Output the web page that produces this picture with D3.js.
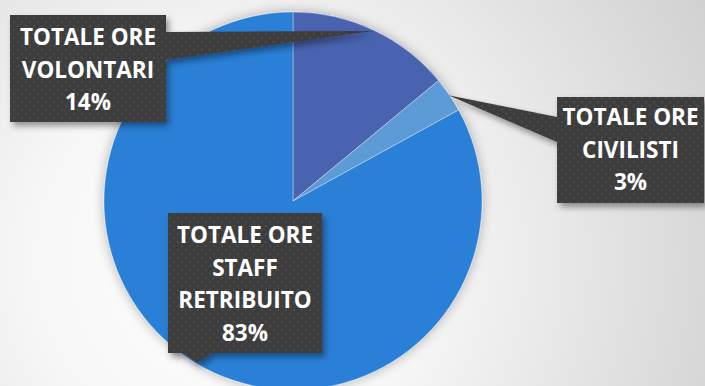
<!DOCTYPE html>
<html>
<head>
<meta charset="utf-8">
<script src="https://cdn.jsdelivr.net/npm/d3@7"></script>
<style>
  html, body { margin: 0; padding: 0; }
  body { width: 705px; height: 386px; overflow: hidden; }
</style>
</head>
<body>
<div id="chart"></div>
<script>
// Slices, clockwise from 12 o'clock
const categories = ['TOTALE ORE VOLONTARI', 'TOTALE ORE CIVILISTI', 'TOTALE ORE STAFF RETRIBUITO'];
const values = [14, 3, 83];
const labelLines = [
    ['TOTALE ORE', 'VOLONTARI', '14%'],
    ['TOTALE ORE', 'CIVILISTI', '3%'],
    ['TOTALE ORE', 'STAFF', 'RETRIBUITO', '83%']
];
const sliceColors = ['#4864b0', '#5b9bd5', '#2a7fd6'];

const width = 705, height = 386;
const cx = 293, cy = 201, radius = 189;

// callout boxes: x, y, w, h, which side the pointer leaves from, and the base span on that side
const callouts = [
    {x: 10, y: 15, w: 156, h: 107, side: 'right', b0: 32, b1: 60, top: 45},
    {x: 557, y: 97, w: 147, h: 106, side: 'left', b0: 117, b1: 142, top: 125},
    {x: 168, y: 213, w: 154, h: 140, side: 'bottom', b0: 183, b1: 213, top: 243}
];
const lineGap = 32.5;

const svg = d3.select('#chart').append('svg')
    .attr('width', width)
    .attr('height', height);

const defs = svg.append('defs');

const bg = defs.append('radialGradient')
    .attr('id', 'bg')
    .attr('gradientUnits', 'userSpaceOnUse')
    .attr('cx', 230).attr('cy', 260).attr('r', 560);
bg.append('stop').attr('offset', '0%').attr('stop-color', '#ffffff');
bg.append('stop').attr('offset', '35%').attr('stop-color', '#f7f7f7');
bg.append('stop').attr('offset', '100%').attr('stop-color', '#cfcfcf');

const pieShadow = defs.append('filter').attr('id', 'pieShadow')
    .attr('x', '-20%').attr('y', '-20%').attr('width', '140%').attr('height', '140%');
pieShadow.append('feDropShadow')
    .attr('dx', 0).attr('dy', 0).attr('stdDeviation', 6)
    .attr('flood-color', '#000').attr('flood-opacity', 0.3);

const boxShadow = defs.append('filter').attr('id', 'boxShadow')
    .attr('x', '-20%').attr('y', '-20%').attr('width', '140%').attr('height', '140%');
boxShadow.append('feDropShadow')
    .attr('dx', 3).attr('dy', 4).attr('stdDeviation', 3)
    .attr('flood-color', '#000').attr('flood-opacity', 0.4);

const dots = defs.append('pattern')
    .attr('id', 'dots')
    .attr('patternUnits', 'userSpaceOnUse')
    .attr('width', 8).attr('height', 8);
dots.append('rect').attr('width', 8).attr('height', 8).attr('fill', '#3e3e3e');
dots.append('rect').attr('x', 1).attr('y', 1).attr('width', 2).attr('height', 2).attr('fill', '#4c4c4c');
dots.append('rect').attr('x', 5).attr('y', 5).attr('width', 2).attr('height', 2).attr('fill', '#484848');

svg.append('rect')
    .attr('width', width).attr('height', height)
    .attr('fill', 'url(#bg)');

const pie = d3.pie().sort(null).value(d => d);
const arcs = pie(values);
const arc = d3.arc().innerRadius(0).outerRadius(radius);

const g = svg.append('g')
    .attr('transform', `translate(${cx},${cy})`)
    .attr('filter', 'url(#pieShadow)');

g.selectAll('path')
    .data(arcs)
    .enter()
    .append('path')
    .attr('d', arc)
    .attr('fill', (d, i) => sliceColors[i])
    .attr('stroke', 'rgba(255,255,255,0.35)')
    .attr('stroke-width', 1);

// pointer tip sits on the rim at the slice's middle angle
function tipPoint(d) {
    const a = (d.startAngle + d.endAngle) / 2;
    return [cx + (radius - 1) * Math.sin(a), cy - (radius - 1) * Math.cos(a)];
}

function calloutPath(c, tip) {
    const p = d3.path();
    const x0 = c.x, y0 = c.y, x1 = c.x + c.w, y1 = c.y + c.h;
    p.moveTo(x0, y0);
    p.lineTo(x1, y0);
    if (c.side === 'right') {
        p.lineTo(x1, c.b0);
        p.lineTo(tip[0], tip[1]);
        p.lineTo(x1, c.b1);
    }
    p.lineTo(x1, y1);
    if (c.side === 'bottom') {
        p.lineTo(c.b1, y1);
        p.lineTo(tip[0], tip[1]);
        p.lineTo(c.b0, y1);
    }
    p.lineTo(x0, y1);
    if (c.side === 'left') {
        p.lineTo(x0, c.b1);
        p.lineTo(tip[0], tip[1]);
        p.lineTo(x0, c.b0);
    }
    p.closePath();
    return p.toString();
}

const labels = svg.append('g');

arcs.forEach((d, i) => {
    const c = callouts[i];
    const tip = tipPoint(d);
    labels.append('path')
        .attr('d', calloutPath(c, tip))
        .attr('fill', 'url(#dots)')
        .attr('filter', 'url(#boxShadow)');

    const text = labels.append('text')
        .attr('text-anchor', 'middle')
        .attr('font-family', '"Open Sans", sans-serif')
        .attr('font-weight', 'bold')
        .attr('font-size', '22.5px')
        .attr('fill', '#ffffff');

    labelLines[i].forEach((line, j) => {
        text.append('tspan')
            .attr('x', c.x + c.w / 2)
            .attr('y', c.top + j * lineGap)
            .text(line);
    });
});
</script>
</body>
</html>
